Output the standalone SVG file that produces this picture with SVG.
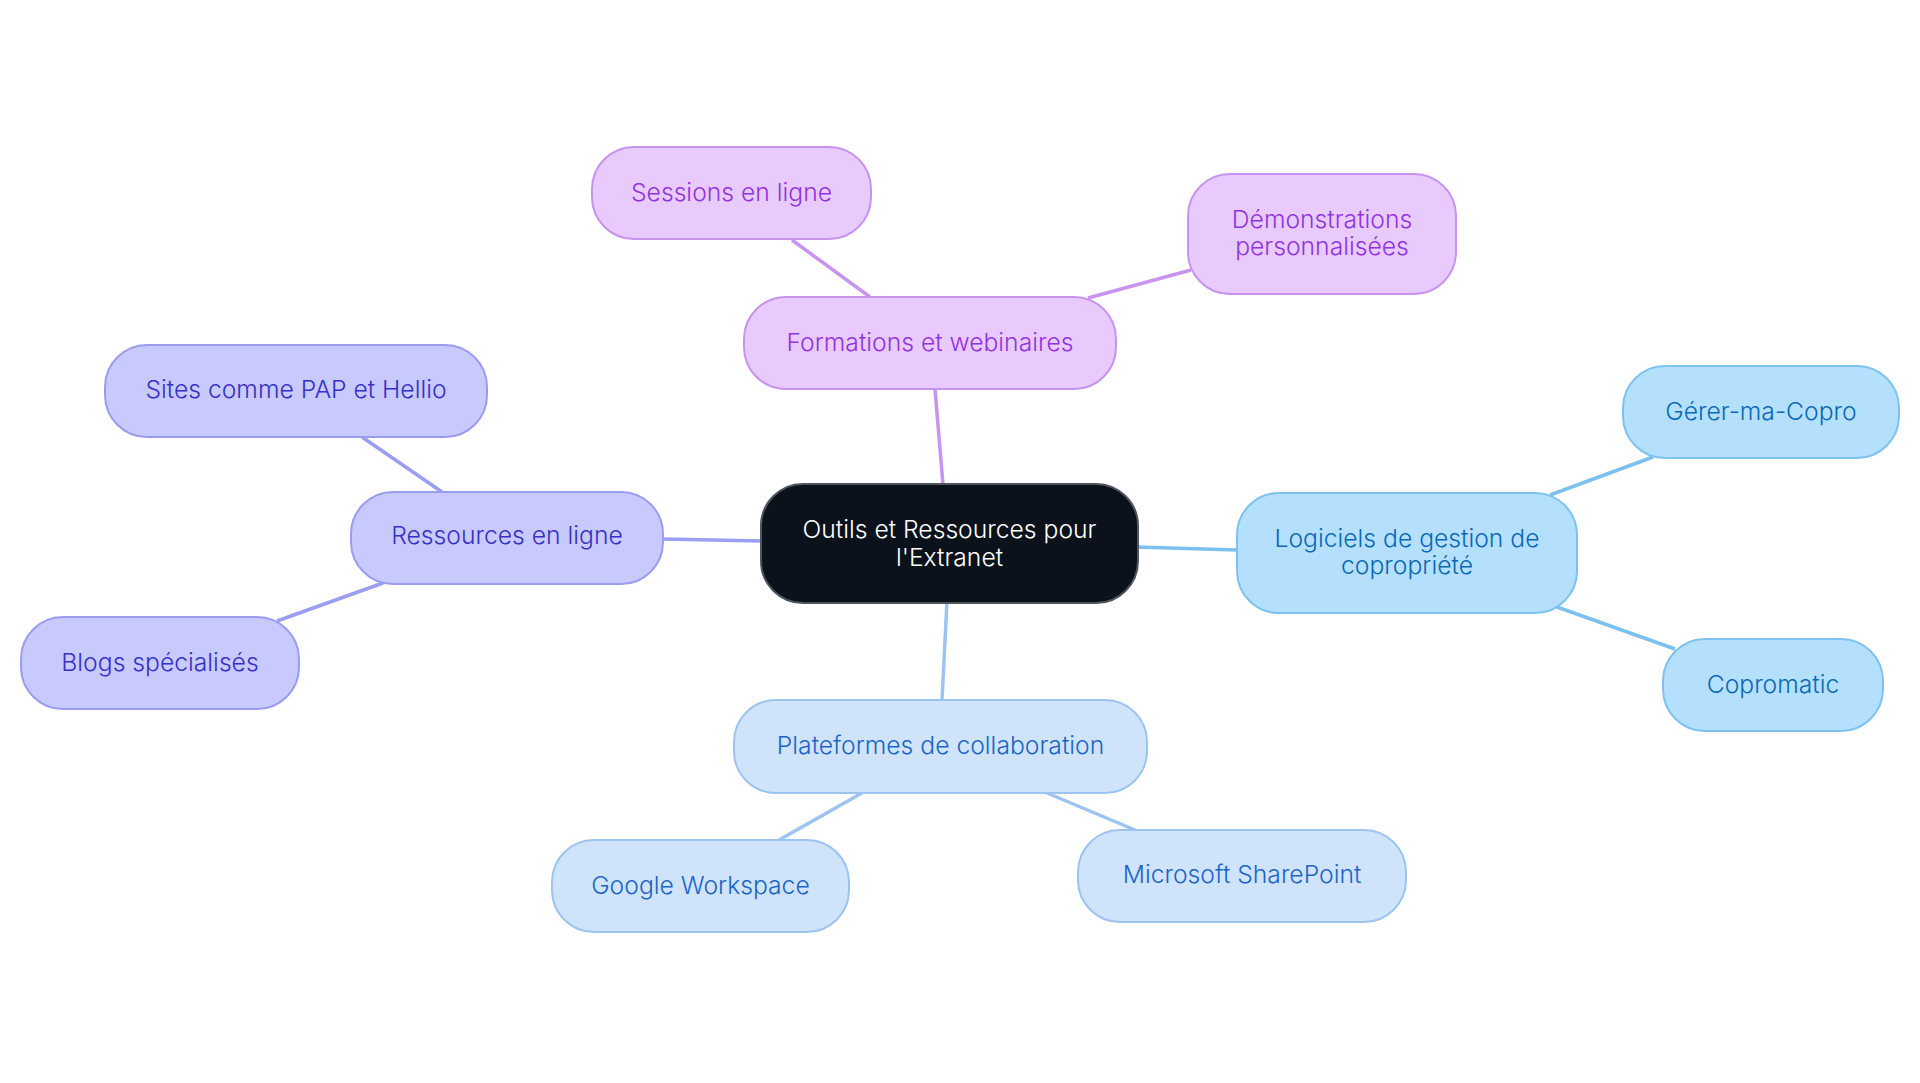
<svg xmlns="http://www.w3.org/2000/svg" width="1920" height="1083" viewBox="0 0 1920 1083">
<style>
text{font-family:Inter,"Noto Sans","Liberation Sans",sans-serif;font-size:24.7px;font-weight:300;text-anchor:middle}
.c rect{fill:#0c121c;stroke:#50555d;stroke-width:2}
.c text{fill:#ffffff}
.p rect{fill:#e8cafd;stroke:#c892ef;stroke-width:2}
.p text{fill:#9233e0}
.i rect{fill:#c8c9fd;stroke:#9a9cf0;stroke-width:2}
.i text{fill:#3730c6}
.l rect{fill:#b4e0fe;stroke:#7ec2f0;stroke-width:2}
.l text{fill:#0a69b4}
.b rect{fill:#cfe3fb;stroke:#9cc4f0;stroke-width:2}
.b text{fill:#1a66c6}
.e line{stroke-width:3.5;fill:none}
</style>
<rect width="1920" height="1083" fill="#ffffff"/>
<g id="connectors" class="e">
<line x1="943" y1="485" x2="935" y2="389" stroke="#c994f0"/>
<line x1="870" y1="297" x2="792" y2="240" stroke="#c994f0"/>
<line x1="1088" y1="298" x2="1191" y2="270" stroke="#c994f0"/>
<line x1="762" y1="541" x2="663" y2="539" stroke="#9b9df2"/>
<line x1="442" y1="492" x2="362" y2="437" stroke="#9b9df2"/>
<line x1="383" y1="583" x2="277" y2="621" stroke="#9b9df2"/>
<line x1="1136" y1="547" x2="1237" y2="550" stroke="#7cc0f0"/>
<line x1="1550" y1="495" x2="1653" y2="457" stroke="#7cc0f0"/>
<line x1="1557" y1="607" x2="1675" y2="649" stroke="#7cc0f0"/>
<line x1="947" y1="601" x2="942" y2="700" stroke="#9dc4f0"/>
<line x1="862" y1="793" x2="779" y2="840" stroke="#9dc4f0"/>
<line x1="1047" y1="793" x2="1135" y2="830" stroke="#9dc4f0"/>
</g>
<g id="center" class="c">
<rect x="761" y="484" width="377" height="119" rx="42"/>
<text x="949.5" y="538">Outils et Ressources pour</text>
<text x="949.5" y="566">l'Extranet</text>
</g>
<g id="formations" class="p">
<rect x="744" y="297" width="372" height="92" rx="42"/>
<text x="930" y="351">Formations et webinaires</text>
</g>
<g id="sessions" class="p">
<rect x="592" y="147" width="279" height="92" rx="42"/>
<text x="731.5" y="201">Sessions en ligne</text>
</g>
<g id="demonstrations" class="p">
<rect x="1188" y="174" width="268" height="120" rx="42"/>
<text x="1322" y="228">Démonstrations</text>
<text x="1322" y="255">personnalisées</text>
</g>
<g id="ressources" class="i">
<rect x="351" y="492" width="312" height="92" rx="42"/>
<text x="507" y="544">Ressources en ligne</text>
</g>
<g id="sites" class="i">
<rect x="105" y="345" width="382" height="92" rx="42"/>
<text x="296" y="398">Sites comme PAP et Hellio</text>
</g>
<g id="blogs" class="i">
<rect x="21" y="617" width="278" height="92" rx="42"/>
<text x="160" y="671">Blogs spécialisés</text>
</g>
<g id="logiciels" class="l">
<rect x="1237" y="493" width="340" height="120" rx="42"/>
<text x="1407" y="547">Logiciels de gestion de</text>
<text x="1407" y="574">copropriété</text>
</g>
<g id="gerer" class="l">
<rect x="1623" y="366" width="276" height="92" rx="42"/>
<text x="1761" y="420">Gérer-ma-Copro</text>
</g>
<g id="copromatic" class="l">
<rect x="1663" y="639" width="220" height="92" rx="42"/>
<text x="1773" y="693">Copromatic</text>
</g>
<g id="plateformes" class="b">
<rect x="734" y="700" width="413" height="93" rx="42"/>
<text x="940.5" y="754">Plateformes de collaboration</text>
</g>
<g id="google" class="b">
<rect x="552" y="840" width="297" height="92" rx="42"/>
<text x="700.5" y="894">Google Workspace</text>
</g>
<g id="sharepoint" class="b">
<rect x="1078" y="830" width="328" height="92" rx="42"/>
<text x="1242" y="883">Microsoft SharePoint</text>
</g>
</svg>
